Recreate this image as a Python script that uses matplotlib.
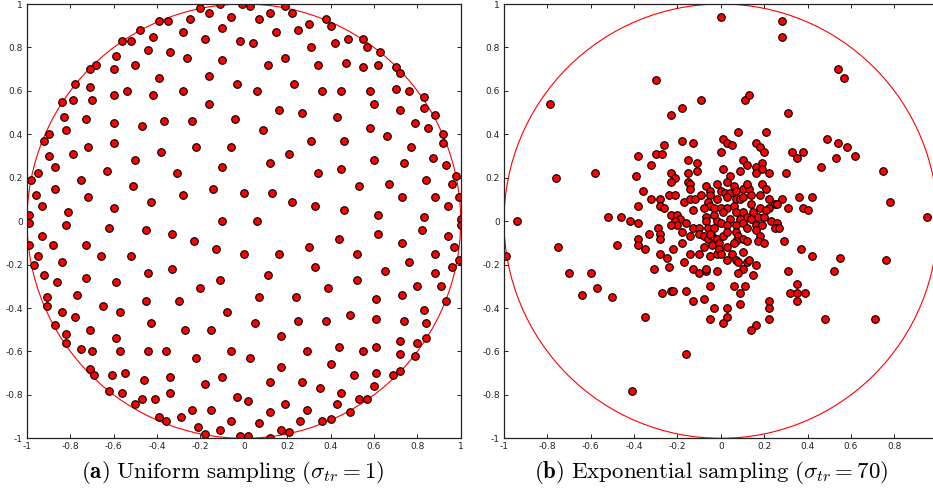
import numpy as np
import matplotlib
matplotlib.use("Agg")
import matplotlib.pyplot as plt
from matplotlib.patches import Circle

plt.rcParams['axes.unicode_minus'] = False
plt.rcParams['mathtext.fontset'] = 'cm'

# ---- (a) uniform sampling ----
uni_upper_left = [
    (-0.11, 1.00), (-0.01, 1.00), (-0.20, 0.98), (-0.16, 0.96), (-0.06, 0.94), (-0.39, 0.92),
    (-0.35, 0.92), (-0.25, 0.93), (-0.48, 0.88), (-0.42, 0.85), (-0.28, 0.87), (-0.10, 0.89),
    (-0.56, 0.83), (-0.52, 0.83), (-0.18, 0.84), (-0.02, 0.83), (-0.44, 0.79), (-0.34, 0.78),
    (-0.59, 0.76), (-0.26, 0.75), (-0.68, 0.72), (-0.50, 0.72), (-0.10, 0.74), (-0.71, 0.70),
    (-0.60, 0.70), (-0.16, 0.67), (-0.39, 0.66), (-0.78, 0.63), (-0.03, 0.63), (-0.71, 0.62),
    (-0.54, 0.60), (-0.28, 0.60), (-0.84, 0.55), (-0.79, 0.56), (-0.70, 0.56), (-0.60, 0.58),
    (-0.42, 0.58), (-0.16, 0.54), (-0.83, 0.48), (-0.73, 0.47), (-0.60, 0.45), (-0.47, 0.44),
    (-0.37, 0.46), (-0.24, 0.46), (-0.04, 0.47), (-0.82, 0.42), (-0.92, 0.37), (-0.90, 0.40),
    (-0.60, 0.36), (-0.72, 0.34), (-0.22, 0.34), (-0.06, 0.34), (-0.90, 0.30), (-0.79, 0.31),
    (-0.50, 0.28), (-0.38, 0.32), (-0.87, 0.25), (-0.63, 0.23), (-0.31, 0.22), (-0.10, 0.25),
    (-0.95, 0.22), (-0.98, 0.19), (-0.75, 0.19), (-0.96, 0.12), (-0.87, 0.15), (-0.51, 0.16),
    (-0.14, 0.15), (0.00, 0.13), (-0.93, 0.07), (-0.72, 0.11), (-0.28, 0.12), (-0.43, 0.09),
    (-0.81, 0.04), (-0.99, 0.03), (-0.60, 0.06), (-0.99, -0.01), (-0.10, 0.00), (-0.82, -0.02),
    (-0.62, -0.03), (-0.45, -0.04),
]
uni_lower_left = [
    (-0.93, -0.07), (-0.99, -0.11), (-0.88, -0.11), (-0.73, -0.11), (-0.33, -0.06), (-0.23, -0.09),
    (-0.13, -0.13), (0.00, -0.15), (-0.95, -0.16), (-0.66, -0.16), (-0.52, -0.16), (-0.84, -0.19),
    (-0.97, -0.20), (-0.44, -0.24), (-0.33, -0.22), (-0.92, -0.25), (-0.73, -0.26), (-0.59, -0.28),
    (-0.86, -0.28), (-0.20, -0.31), (-0.11, -0.27), (-0.77, -0.34), (-0.91, -0.35), (-0.91, -0.39),
    (-0.65, -0.39), (-0.84, -0.42), (-0.57, -0.42), (-0.45, -0.37), (-0.30, -0.37), (-0.08, -0.42),
    (-0.78, -0.44), (-0.87, -0.48), (-0.43, -0.47), (-0.71, -0.50), (-0.27, -0.50), (-0.15, -0.50),
    (-0.82, -0.52), (-0.59, -0.54), (-0.82, -0.56), (-0.75, -0.59), (-0.70, -0.60), (-0.57, -0.60),
    (-0.44, -0.60), (-0.36, -0.60), (-0.22, -0.63), (-0.06, -0.60), (0.03, -0.63), (-0.71, -0.68),
    (-0.69, -0.71), (-0.61, -0.71), (-0.55, -0.70), (-0.46, -0.73), (-0.34, -0.72), (-0.18, -0.75),
    (-0.10, -0.72), (-0.62, -0.78), (-0.56, -0.79), (-0.50, -0.84), (-0.47, -0.82), (-0.41, -0.82),
    (-0.34, -0.79), (-0.24, -0.87), (-0.15, -0.87), (-0.03, -0.81), (0.02, -0.83), (-0.39, -0.90),
    (-0.36, -0.92), (-0.29, -0.90), (-0.21, -0.95), (-0.18, -0.98), (-0.11, -0.96), (-0.06, -0.92),
    (-0.02, -0.99), (0.02, -0.99),
]
uni_upper_right = [
    (0.03, 0.99), (0.12, 0.96), (0.19, 0.99), (0.22, 0.96), (0.07, 0.93), (0.15, 0.87),
    (0.25, 0.88), (0.30, 0.91), (0.38, 0.93), (0.40, 0.90), (0.04, 0.82), (0.31, 0.80),
    (0.42, 0.82), (0.48, 0.84), (0.55, 0.84), (0.57, 0.80), (0.63, 0.78), (0.11, 0.72),
    (0.19, 0.75), (0.34, 0.72), (0.47, 0.73), (0.55, 0.71), (0.62, 0.72), (0.70, 0.71),
    (0.72, 0.68), (0.06, 0.60), (0.23, 0.63), (0.36, 0.60), (0.45, 0.60), (0.58, 0.60),
    (0.70, 0.61), (0.76, 0.60), (0.83, 0.57), (0.60, 0.54), (0.83, 0.52), (0.16, 0.51),
    (0.27, 0.50), (0.43, 0.48), (0.72, 0.51), (0.88, 0.49), (0.09, 0.42), (0.58, 0.43),
    (0.66, 0.39), (0.79, 0.45), (0.85, 0.43), (0.92, 0.40), (0.92, 0.36), (0.31, 0.37),
    (0.46, 0.37), (0.77, 0.34), (0.21, 0.31), (0.12, 0.27), (0.60, 0.28), (0.74, 0.27),
    (0.87, 0.29), (0.93, 0.26), (0.34, 0.22), (0.45, 0.24), (0.98, 0.21), (0.53, 0.16),
    (0.67, 0.17), (0.84, 0.19), (0.96, 0.17), (0.13, 0.13), (0.22, 0.09), (0.33, 0.07),
    (0.46, 0.05), (0.62, 0.03), (0.73, 0.11), (0.88, 0.11), (0.94, 0.07), (0.99, 0.11),
    (0.06, 0.00), (0.83, 0.02), (1.00, 0.01), (0.82, -0.04), (1.00, -0.02),
]
uni_lower_right = [
    (0.62, -0.06), (0.94, -0.07), (0.44, -0.08), (0.73, -0.10), (0.97, -0.12), (0.16, -0.15),
    (0.30, -0.12), (0.52, -0.15), (0.76, -0.19), (0.88, -0.15), (0.99, -0.18), (0.33, -0.21),
    (0.65, -0.23), (0.96, -0.21), (0.11, -0.25), (0.52, -0.27), (0.88, -0.24), (0.07, -0.35),
    (0.24, -0.35), (0.39, -0.31), (0.61, -0.36), (0.73, -0.34), (0.80, -0.30), (0.91, -0.30),
    (0.93, -0.37), (0.05, -0.47), (0.25, -0.46), (0.38, -0.46), (0.49, -0.43), (0.61, -0.45),
    (0.74, -0.46), (0.83, -0.41), (0.84, -0.47), (0.17, -0.53), (0.44, -0.58), (0.72, -0.55),
    (0.80, -0.56), (0.84, -0.54), (0.29, -0.60), (0.55, -0.60), (0.61, -0.58), (0.72, -0.61),
    (0.79, -0.62), (0.17, -0.67), (0.40, -0.66), (0.12, -0.74), (0.27, -0.74), (0.51, -0.71),
    (0.69, -0.71), (0.72, -0.69), (0.61, -0.70), (0.35, -0.77), (0.45, -0.79), (0.60, -0.76),
    (0.19, -0.84), (0.43, -0.84), (0.53, -0.82), (0.57, -0.82), (0.12, -0.88), (0.29, -0.87),
    (0.49, -0.88), (0.07, -0.93), (0.26, -0.92), (0.36, -0.92), (0.40, -0.91), (0.17, -0.96),
    (0.21, -0.97), (0.12, -1.00),
]

# ---- (b) exponential sampling ----
exp_outer = [
    (-0.30, 0.65), (-0.79, 0.54), (-0.09, 0.56), (-0.18, 0.52), (-0.23, 0.49), (-0.76, 0.20),
    (-0.58, 0.22), (-0.94, 0.00), (-0.52, 0.02), (-0.46, 0.02), (-0.42, 0.00),
    (0.00, 0.94), (0.28, 0.92), (0.28, 0.85), (0.54, 0.70), (0.57, 0.66), (0.11, 0.56),
    (0.13, 0.58), (0.31, 0.50), (0.49, 0.38), (0.54, 0.36), (0.58, 0.34), (0.62, 0.30),
    (0.53, 0.29), (0.46, 0.25), (0.75, 0.23), (0.78, 0.09), (0.95, 0.02), (0.42, 0.11),
    (-0.99, -0.16), (-0.75, -0.12), (-0.70, -0.24), (-0.60, -0.24), (-0.57, -0.31), (-0.64, -0.34),
    (-0.50, -0.35), (-0.48, -0.11), (-0.16, -0.61), (-0.41, -0.78),
    (0.42, -0.16), (0.55, -0.17), (0.52, -0.23), (0.76, -0.18), (0.48, -0.45), (0.71, -0.45),
]
exp_core_upper_left = [
    (-0.18, 0.37), (-0.13, 0.36), (-0.26, 0.35), (-0.30, 0.31), (-0.27, 0.31), (-0.38, 0.30),
    (-0.15, 0.28), (-0.11, 0.27), (-0.32, 0.26), (-0.23, 0.22), (-0.15, 0.22), (-0.11, 0.23),
    (-0.39, 0.21), (-0.21, 0.20), (-0.23, 0.18), (-0.15, 0.18), (-0.14, 0.17), (-0.14, 0.15),
    (-0.36, 0.14), (-0.02, 0.17), (-0.07, 0.16), (-0.05, 0.14), (-0.24, 0.12), (-0.21, 0.12),
    (-0.28, 0.10), (-0.32, 0.10), (-0.17, 0.09), (-0.14, 0.10), (-0.12, 0.10), (-0.09, 0.12),
    (-0.05, 0.12), (-0.06, 0.09), (-0.02, 0.10), (-0.38, 0.07), (-0.28, 0.07), (-0.26, 0.06),
    (-0.05, 0.07), (-0.08, 0.06), (-0.03, 0.06), (-0.13, 0.05), (-0.23, 0.03), (-0.20, 0.03),
    (-0.07, 0.02), (-0.03, 0.03), (-0.38, -0.01), (-0.19, 0.01), (-0.16, -0.01), (-0.21, 0.00),
    (-0.07, 0.00), (-0.02, 0.00), (-0.29, -0.03), (-0.20, -0.02), (-0.23, -0.02), (-0.13, -0.03),
    (-0.10, -0.03), (-0.06, -0.03), (-0.03, -0.03),
]
exp_core_upper_right = [
    (0.08, 0.41), (0.21, 0.41), (0.01, 0.38), (0.03, 0.36), (0.05, 0.35), (0.16, 0.36),
    (0.18, 0.34), (0.20, 0.32), (0.00, 0.32), (0.33, 0.32), (0.38, 0.32), (0.35, 0.29),
    (0.10, 0.28), (0.12, 0.26), (0.19, 0.27), (0.16, 0.25), (0.19, 0.24), (0.01, 0.24),
    (0.09, 0.23), (0.22, 0.22), (0.16, 0.22), (0.30, 0.22), (0.04, 0.21), (0.03, 0.18),
    (0.00, 0.14), (0.06, 0.16), (0.10, 0.15), (0.13, 0.15), (0.12, 0.17), (0.19, 0.17),
    (0.21, 0.15), (0.02, 0.13), (0.04, 0.13), (0.07, 0.14), (0.14, 0.12), (0.18, 0.12),
    (0.22, 0.10), (0.28, 0.10), (0.25, 0.08), (0.26, 0.08), (0.36, 0.11), (0.03, 0.11),
    (0.07, 0.10), (0.09, 0.10), (0.10, 0.11), (0.14, 0.08), (0.18, 0.06), (0.22, 0.06),
    (0.21, 0.05), (0.31, 0.06), (0.38, 0.06), (0.40, 0.05), (0.00, 0.06), (0.03, 0.06),
    (0.06, 0.07), (0.07, 0.04), (0.10, 0.04), (0.12, 0.02), (0.01, 0.04), (0.04, 0.01),
    (0.09, 0.01), (0.15, 0.04), (0.17, 0.02), (0.20, 0.02), (0.14, 0.01), (0.23, 0.00),
    (0.26, -0.01), (0.00, -0.01), (0.03, -0.02), (0.07, -0.02), (0.10, -0.01), (0.12, -0.03),
    (0.16, -0.02), (0.19, -0.02), (0.25, -0.03), (0.27, -0.03),
]
exp_core_lower_left = [
    (-0.38, -0.08), (-0.33, -0.06), (-0.28, -0.06), (-0.28, -0.08), (-0.18, -0.05), (-0.14, -0.07),
    (-0.10, -0.06), (-0.08, -0.07), (-0.06, -0.08), (-0.04, -0.07), (-0.02, -0.08), (-0.05, -0.06),
    (-0.38, -0.11), (-0.35, -0.13), (-0.22, -0.13), (-0.18, -0.10), (-0.08, -0.12), (-0.04, -0.11),
    (-0.01, -0.10), (-0.28, -0.15), (-0.25, -0.17), (-0.14, -0.15), (-0.10, -0.15), (-0.05, -0.16),
    (-0.02, -0.15), (-0.01, -0.13), (-0.17, -0.19), (-0.24, -0.21), (-0.31, -0.22), (-0.13, -0.22),
    (-0.10, -0.24), (-0.07, -0.23), (-0.07, -0.22), (-0.02, -0.23), (-0.05, -0.30), (-0.27, -0.33),
    (-0.23, -0.32), (-0.22, -0.32), (-0.16, -0.32), (-0.13, -0.37), (-0.08, -0.36), (-0.03, -0.40),
    (-0.35, -0.44), (-0.05, -0.45),
]
exp_core_lower_right = [
    (0.01, -0.07), (0.03, -0.05), (0.07, -0.05), (0.08, -0.07), (0.10, -0.08), (0.12, -0.09),
    (0.16, -0.04), (0.18, -0.07), (0.17, -0.09), (0.20, -0.10), (0.29, -0.09), (0.37, -0.13),
    (0.07, -0.09), (0.06, -0.10), (0.03, -0.12), (0.05, -0.15), (0.10, -0.14),
    (0.00, -0.15), (0.03, -0.18), (0.07, -0.18), (0.08, -0.19), (0.12, -0.19), (0.13, -0.18),
    (0.16, -0.20), (0.10, -0.22), (0.08, -0.24), (0.15, -0.25), (0.31, -0.23), (0.35, -0.29),
    (0.06, -0.30), (0.11, -0.30), (0.09, -0.33), (0.32, -0.33), (0.35, -0.33), (0.39, -0.33),
    (0.35, -0.37), (0.22, -0.37), (0.22, -0.40), (0.09, -0.38), (0.03, -0.40), (0.03, -0.44),
    (0.01, -0.47), (0.22, -0.45), (0.16, -0.48), (0.14, -0.50),
]

uni_pts = np.array(uni_upper_left + uni_lower_left + uni_upper_right + uni_lower_right)
exp_pts = np.array(exp_outer + exp_core_upper_left + exp_core_upper_right
                   + exp_core_lower_left + exp_core_lower_right)

ticks = np.round(np.arange(-1, 1.01, 0.2), 1)
tick_labels = ['-1', '-0.8', '-0.6', '-0.4', '-0.2', '0', '0.2', '0.4', '0.6', '0.8', '1']
# the right panel runs past the page edge, so its last x label is not shown
tick_labels_cut = tick_labels[:-1] + ['']

captions = [r"$\mathbf{(a)}\ \mathrm{Uniform\ sampling}\ (\sigma_{tr} = 1)$",
            r"$\mathbf{(b)}\ \mathrm{Exponential\ sampling}\ (\sigma_{tr} = 70)$"]

W, H = 933, 491
fig = plt.figure(figsize=(W / 100, H / 100), dpi=100)
ax_w, ax_h = 433.7 / W, 434.3 / H
ax_b = (H - 438.3) / H
axes = [fig.add_axes([27 / W, ax_b, ax_w, ax_h]),
        fig.add_axes([504 / W, ax_b, ax_w, ax_h])]

for ax, pts, cap, cx, xlabels in zip(axes, [uni_pts, exp_pts], captions, [233, 711],
                                     [tick_labels, tick_labels_cut]):
    ax.add_patch(Circle((0, 0), 1.0, fill=False, color='red', lw=0.8, zorder=1))
    ax.scatter(pts[:, 0], pts[:, 1], s=30, c='red', edgecolors='black',
               linewidths=0.8, zorder=2)
    ax.set_xlim(-1, 1)
    ax.set_ylim(-1, 1)
    ax.set_xticks(ticks)
    ax.set_yticks(ticks)
    ax.set_xticklabels(xlabels)
    ax.set_yticklabels(tick_labels)
    ax.tick_params(direction='in', top=True, right=True, length=3, width=0.6,
                   labelsize=6.5, pad=3, colors='black', labelcolor='#222222')
    for sp in ax.spines.values():
        sp.set_linewidth(0.9)
        sp.set_color('#222222')
    fig.text(cx / W, 1 - 473 / H, cap, ha='center', va='center', fontsize=16.5)

fig.savefig("out.png", dpi=100)
